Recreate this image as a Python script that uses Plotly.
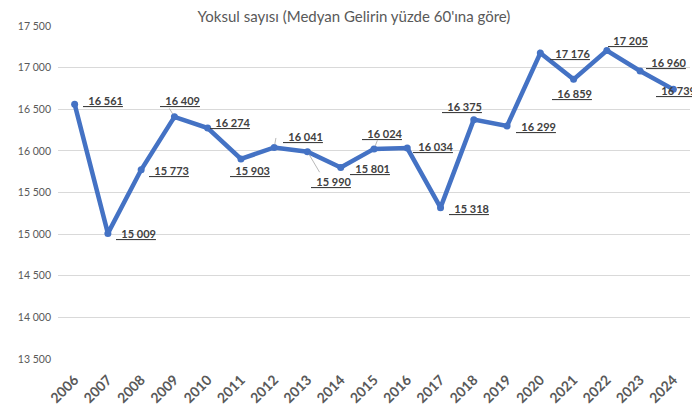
import plotly.graph_objects as go

# data
years = [str(y) for y in range(2006, 2025)]
poor_count = [16561, 15009, 15773, 16409, 16274, 15903, 16041, 15990, 15801,
              16024, 16034, 15318, 16375, 16299, 17176, 16859, 17205, 16960, 16739]
y_ticks = [13500, 14000, 14500, 15000, 15500, 16000, 16500, 17000, 17500]

title = "Yoksul sayısı (Medyan Gelirin yüzde 60'ına göre)"

# label offsets in pixels (dx right, dy up) from each point, as dragged in the original
label_dx = [28, 28, 28, 6, 23, 9, 29, 24, 29, 8, 26, 28, -12, 29, 30, -2, 21, 26, 3]
label_dy = [4, 0, -1, 16, 6, -12, 11, -30, -1, 15, 2, -1, 13, -1, -1, -14, 10, 8, -1]
# small leader lines (index of point, end offset in px right / down)
leaders = [(3, -6, -10), (6, 2, -11), (7, 13, 22), (9, 4, -10)]

blue = '#4472C4'
grey_txt = '#595959'


def fmt(v):
    return f'{v:,}'.replace(',', ' ')


fig = go.Figure()
fig.add_trace(go.Scatter(x=list(range(len(years))), y=poor_count, mode='lines+markers',
                         line=dict(color=blue, width=4.5),
                         marker=dict(color=blue, size=7),
                         hoverinfo='skip', showlegend=False))

for i, dx, dy in leaders:
    fig.add_annotation(x=i, y=poor_count[i], xref='x', yref='y', text='',
                       showarrow=True, arrowhead=0, arrowwidth=0.8, arrowcolor='#a6a6a6',
                       ax=dx, ay=dy, standoff=3)

for i, v in enumerate(poor_count):
    fig.add_annotation(
        x=i, y=v, xref='x', yref='y',
        text="<b><span style='text-decoration:underline'>\u00a0\u00a0" + fmt(v) + "</span></b>",
        showarrow=False, xshift=label_dx[i], yshift=label_dy[i],
        font=dict(family='Lato', size=11, color='#404040'))

# the page body has an 8px margin, so the figure is a bit smaller than the window
fig.update_layout(
    width=692, height=408,
    margin=dict(l=42, r=10, t=18, b=54),
    paper_bgcolor='white', plot_bgcolor='white',
    font=dict(family='Lato', color=grey_txt),
    title=dict(text=title, x=0.5, xanchor='center', yref='container', y=1, yanchor='top',
               pad=dict(t=3), font=dict(family='Lato', size=15, color=grey_txt)),
)
fig.update_xaxes(range=[-0.5, 18.5], tickvals=list(range(len(years))), ticktext=years,
                 showgrid=False, zeroline=False,
                 showline=False, ticks='', tickangle=-45, ticklabelstandoff=9,
                 tickfont=dict(family='Lato', size=14, color=grey_txt, weight='bold'))
fig.update_yaxes(range=[13500, 17500], tickvals=y_ticks,
                 ticktext=[fmt(t) for t in y_ticks],
                 showgrid=True, gridcolor='#d9d9d9', gridwidth=1, zeroline=False,
                 showline=False, ticks='', ticklabelstandoff=6,
                 tickfont=dict(family='Lato', size=10.5, color=grey_txt))

fig.write_html("out.html")
